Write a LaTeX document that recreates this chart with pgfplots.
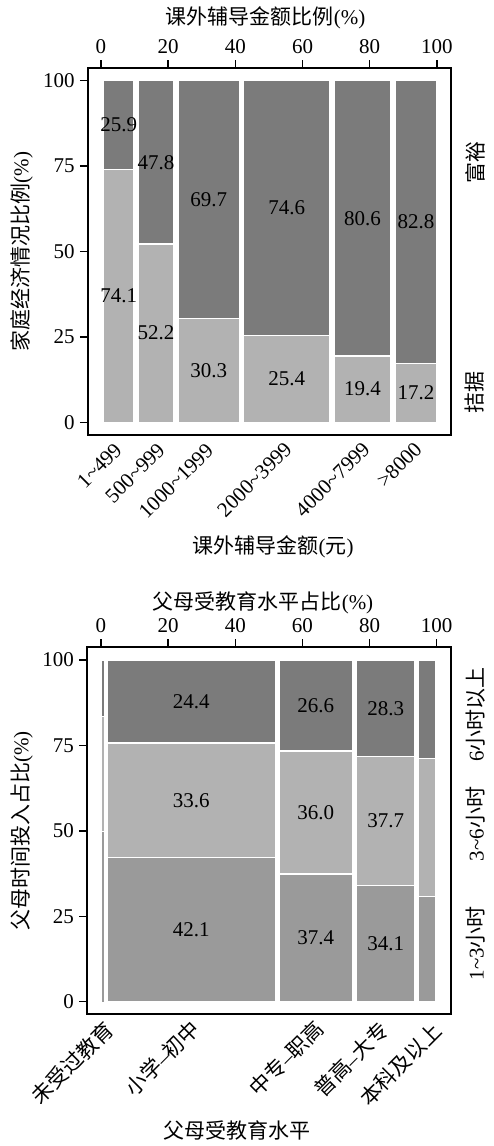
\documentclass[border=0pt]{standalone}
\usepackage{fontspec}
\setmainfont{Liberation Serif}
\newfontfamily\cjk{Noto Sans CJK SC}
\usepackage{pgfplots}
\pgfplotsset{compat=1.18}
\definecolor{dk}{HTML}{7B7B7B}
\definecolor{lt}{HTML}{B2B2B2}
\definecolor{md}{HTML}{9A9A9A}
\pgfplotsset{
  mosaic/.style={
    scale only axis, anchor=south west,
    axis line style={line width=0.9pt, black},
    tick align=outside, major tick length=4pt,
    every tick/.style={black, line width=0.7pt},
    xtick={0,20,40,60,80,100}, ytick={0,25,50,75,100},
    xtick pos=right, xticklabel pos=right, ytick pos=left,
    /pgf/number format/assume math mode=true,
    yticklabel style={inner sep=2.5pt},
    xticklabel style={inner sep=3pt},
    no markers, clip=false,
  },
  rect/.style={draw=white, line width=0.6pt},
}
\newcommand\fs{\fontsize{10.5pt}{12.6pt}\selectfont}
\begin{document}
\fs
\begin{tikzpicture}
\path[use as bounding box] (0pt,0pt) rectangle (246.5pt,-573pt);
% ---------------- top chart ----------------
\begin{axis}[mosaic, at={(44pt,-217.5pt)}, width=181.5pt, height=183.35pt,
  xmin=-3.87, xmax=104.2, ymin=-3.72, ymax=103.63]
\addplot[rect, fill=lt] coordinates {(0.7,0) (9.8,0) (9.8,74.1) (0.7,74.1)} --cycle;
\addplot[rect, fill=dk] coordinates {(0.7,74.1) (9.8,74.1) (9.8,100) (0.7,100)} --cycle;
\addplot[rect, fill=lt] coordinates {(11.0,0) (21.7,0) (21.7,52.2) (11.0,52.2)} --cycle;
\addplot[rect, fill=dk] coordinates {(11.0,52.2) (21.7,52.2) (21.7,100) (11.0,100)} --cycle;
\addplot[rect, fill=lt] coordinates {(23.0,0) (41.2,0) (41.2,30.3) (23.0,30.3)} --cycle;
\addplot[rect, fill=dk] coordinates {(23.0,30.3) (41.2,30.3) (41.2,100) (23.0,100)} --cycle;
\addplot[rect, fill=lt] coordinates {(42.4,0) (68.2,0) (68.2,25.4) (42.4,25.4)} --cycle;
\addplot[rect, fill=dk] coordinates {(42.4,25.4) (68.2,25.4) (68.2,100) (42.4,100)} --cycle;
\addplot[rect, fill=lt] coordinates {(69.4,0) (86.3,0) (86.3,19.4) (69.4,19.4)} --cycle;
\addplot[rect, fill=dk] coordinates {(69.4,19.4) (86.3,19.4) (86.3,100) (69.4,100)} --cycle;
\addplot[rect, fill=lt] coordinates {(87.7,0) (99.8,0) (99.8,17.2) (87.7,17.2)} --cycle;
\addplot[rect, fill=dk] coordinates {(87.7,17.2) (99.8,17.2) (99.8,100) (87.7,100)} --cycle;
\node at (axis cs:5.25,37.05) {74.1};
\node at (axis cs:5.25,87.05) {25.9};
\node at (axis cs:16.35,26.1) {52.2};
\node at (axis cs:16.35,76.1) {47.8};
\node at (axis cs:32.1,15.15) {30.3};
\node at (axis cs:32.1,65.15) {69.7};
\node at (axis cs:55.3,12.7) {25.4};
\node at (axis cs:55.3,62.7) {74.6};
\node at (axis cs:77.85,9.7) {19.4};
\node at (axis cs:77.85,59.7) {80.6};
\node at (axis cs:93.75,8.6) {17.2};
\node at (axis cs:93.75,58.6) {82.8};
\end{axis}
\node at (132.85pt,-9.15pt) {{\cjk 课外辅导金额比例}(\%)};
\node[rotate=90] at (10.85pt,-125.85pt) {{\cjk 家庭经济情况比例}(\%)};
\node[rotate=90] at (237.5pt,-81.35pt) {\cjk 富裕};
\node[rotate=90] at (237.5pt,-196.45pt) {\cjk 拮据};
\node at (136.5pt,-273.35pt) {{\cjk 课外辅导金额}({\cjk 元})};
\begin{scope}[every node/.style={rotate=45, anchor=east, inner sep=0pt}]
\node at (59.25pt,-223.25pt) {1\textasciitilde 499};
\node at (80.75pt,-223.25pt) {500\textasciitilde 999};
\node at (105pt,-223.5pt) {1000\textasciitilde 1999};
\node at (144.25pt,-222.75pt) {2000\textasciitilde 3999};
\node at (183.25pt,-222.75pt) {4000\textasciitilde 7999};
\node at (209.25pt,-222.75pt) {>8000};
\end{scope}
% ---------------- bottom chart ----------------
\begin{axis}[mosaic, at={(43.65pt,-507.15pt)}, width=181.7pt, height=183.5pt,
  xmin=-4.08, xmax=104.17, ymin=-3.69, ymax=103.72]
\addplot[draw=white, line width=0.2pt, fill=md] coordinates {(0.2,0) (0.9,0) (0.9,49.8) (0.2,49.8)} --cycle;
\addplot[draw=white, line width=0.2pt, fill=lt] coordinates {(0.2,49.8) (0.9,49.8) (0.9,83.6) (0.2,83.6)} --cycle;
\addplot[draw=white, line width=0.2pt, fill=dk] coordinates {(0.2,83.6) (0.9,83.6) (0.9,100) (0.2,100)} --cycle;
\addplot[rect, fill=md] coordinates {(1.9,0) (51.9,0) (51.9,42.1) (1.9,42.1)} --cycle;
\addplot[rect, fill=lt] coordinates {(1.9,42.1) (51.9,42.1) (51.9,75.7) (1.9,75.7)} --cycle;
\addplot[rect, fill=dk] coordinates {(1.9,75.7) (51.9,75.7) (51.9,100) (1.9,100)} --cycle;
\addplot[rect, fill=md] coordinates {(53.0,0) (75.0,0) (75.0,37.4) (53.0,37.4)} --cycle;
\addplot[rect, fill=lt] coordinates {(53.0,37.4) (75.0,37.4) (75.0,73.4) (53.0,73.4)} --cycle;
\addplot[rect, fill=dk] coordinates {(53.0,73.4) (75.0,73.4) (75.0,100) (53.0,100)} --cycle;
\addplot[rect, fill=md] coordinates {(76.2,0) (93.5,0) (93.5,34.1) (76.2,34.1)} --cycle;
\addplot[rect, fill=lt] coordinates {(76.2,34.1) (93.5,34.1) (93.5,71.8) (76.2,71.8)} --cycle;
\addplot[rect, fill=dk] coordinates {(76.2,71.8) (93.5,71.8) (93.5,100) (76.2,100)} --cycle;
\addplot[rect, fill=md] coordinates {(94.6,0) (99.6,0) (99.6,30.9) (94.6,30.9)} --cycle;
\addplot[rect, fill=lt] coordinates {(94.6,30.9) (99.6,30.9) (99.6,71.2) (94.6,71.2)} --cycle;
\addplot[rect, fill=dk] coordinates {(94.6,71.2) (99.6,71.2) (99.6,100) (94.6,100)} --cycle;
\node at (axis cs:26.9,21.05) {42.1};
\node at (axis cs:26.9,58.9) {33.6};
\node at (axis cs:26.9,87.85) {24.4};
\node at (axis cs:64,18.7) {37.4};
\node at (axis cs:64,55.4) {36.0};
\node at (axis cs:64,86.7) {26.6};
\node at (axis cs:84.85,17.05) {34.1};
\node at (axis cs:84.85,52.95) {37.7};
\node at (axis cs:84.85,85.9) {28.3};
\end{axis}
\node at (131.5pt,-301.65pt) {{\cjk 父母受教育水平占比}(\%)};
\node[rotate=90] at (10.85pt,-415.4pt) {{\cjk 父母时间投入占比}(\%)};
\node[rotate=90] at (237.85pt,-357.35pt) {6{\cjk 小时以上}};
\node[rotate=90] at (237.85pt,-412pt) {3\textasciitilde 6{\cjk 小时}};
\node[rotate=90] at (237.85pt,-471.65pt) {1\textasciitilde 3{\cjk 小时}};
\node at (118.5pt,-565pt) {\cjk 父母受教育水平};
\begin{scope}[every node/.style={rotate=45, anchor=east, inner sep=0pt}]
\node at (54.8pt,-512.7pt) {\cjk 未受过教育};
\node at (98pt,-512.3pt) {{\cjk 小学}--{\cjk 初中}};
\node at (160pt,-512.3pt) {{\cjk 中专}--{\cjk 职高}};
\node at (192.5pt,-513pt) {{\cjk 普高}--{\cjk 大专}};
\node at (219pt,-513.5pt) {\cjk 本科及以上};
\end{scope}
\end{tikzpicture}
\end{document}
